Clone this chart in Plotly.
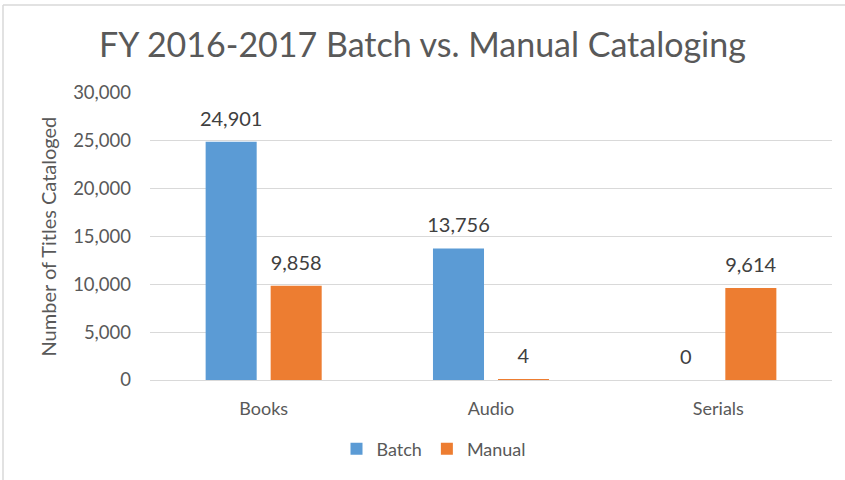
import plotly.graph_objects as go

categories = ["Books", "Audio", "Serials"]
batch = [24901, 13756, 0]
manual = [9858, 4, 9614]
series_names = ["Batch", "Manual"]
colors = ["#5B9BD5", "#ED7D31"]
title_text = "FY 2016-2017 Batch vs. Manual Cataloging"
y_title = "Number of Titles Cataloged"

FONT = "Lato, 'Open Sans', sans-serif"
label_tpl = ("<span style='font-size:20px'>%{y:,}</span>"
             "<br><span style='color:rgba(0,0,0,0)'>.</span>")

fig = go.Figure()
for name, vals, col in zip(series_names, [batch, manual], colors):
    fig.add_trace(go.Bar(
        x=categories, y=vals, name=name, marker=dict(color=col, line=dict(width=0)),
        texttemplate=label_tpl, textposition="outside", cliponaxis=False,
        constraintext="none",
        textfont=dict(family=FONT, size=8.5, color="#404040"),
    ))

W, H = 845, 480
L, R, T, B = 150, 13, 93, 100
pw, ph = W - L - R, H - T - B

fig.update_layout(
    width=W, height=H,
    margin=dict(l=L, r=R, t=T, b=B),
    paper_bgcolor="white", plot_bgcolor="white",
    barmode="group", bargap=0.428, bargroupgap=0.215,
    uniformtext=dict(mode=False),
    font=dict(family=FONT, color="#595959"),
    title=dict(text=title_text, x=0.5, xanchor="center", y=1 - 45 / H, yanchor="middle",
               font=dict(family=FONT, size=34, color="#595959")),
    legend=dict(orientation="h", x=0.5 + (434 - (L + pw / 2)) / pw, xanchor="center",
                y=-(449 - (T + ph)) / ph, yanchor="middle",
                font=dict(family=FONT, size=18, color="#595959"),
                itemwidth=30, traceorder="normal"),
    showlegend=True,
)
fig.update_yaxes(range=[0, 30000], dtick=5000, tickformat=",", gridcolor="#D9D9D9",
                 zeroline=True, zerolinecolor="#D9D9D9", zerolinewidth=1,
                 showline=False, ticklabelstandoff=18,
                 tickfont=dict(family=FONT, size=18.5, color="#595959"))
fig.update_xaxes(showline=False, ticks="", ticklabelstandoff=16,
                 tickfont=dict(family=FONT, size=18, color="#595959"))

fig.add_annotation(text=y_title, textangle=-90, xref="paper", yref="paper",
                   x=-(L - 47) / pw, y=0.5, xanchor="center", yanchor="middle",
                   showarrow=False, font=dict(family=FONT, size=20, color="#595959"))

# outer chart border (left and top)
fig.add_shape(type="line", xref="paper", yref="paper",
              x0=-(L - 3) / pw, x1=(W - L) / pw, y0=1 + (T - 5) / ph, y1=1 + (T - 5) / ph,
              line=dict(color="#D9D9D9", width=1.5))
fig.add_shape(type="line", xref="paper", yref="paper",
              x0=-(L - 3) / pw, x1=-(L - 3) / pw, y0=1 + (T - 5) / ph, y1=-(H - T - ph) / ph,
              line=dict(color="#D9D9D9", width=1.5))

fig.write_html("out.html", config={"displayModeBar": False},
               post_script="document.body.style.margin='0px';")
